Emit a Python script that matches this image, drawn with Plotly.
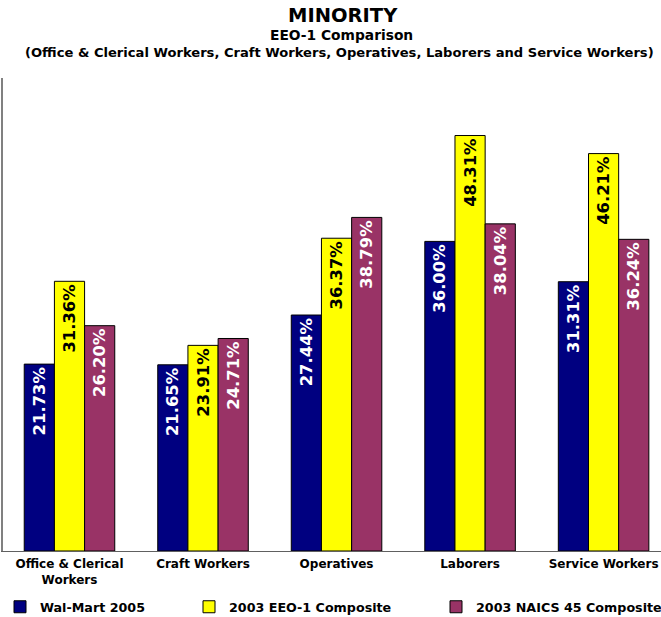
import plotly.graph_objects as go

categories = ["Office & Clerical<br>Workers", "Craft Workers", "Operatives", "Laborers", "Service Workers"]
walmart_2005 = [21.73, 21.65, 27.44, 36.00, 31.31]
eeo1_2003 = [31.36, 23.91, 36.37, 48.31, 46.21]
naics45_2003 = [26.20, 24.71, 38.79, 38.04, 36.24]

series = [
    ("Wal-Mart 2005", walmart_2005, "#000080", "white", "legend", 36),
    ("2003 EEO-1 Composite", eeo1_2003, "#FFFF00", "black", "legend2", 229),
    ("2003 NAICS 45 Composite", naics45_2003, "#993366", "white", "legend3", 476),
]

W, H = 661, 617
L, R, T, B = 3, 0, 78, 66
pw = W - L - R
ph = H - T - B


def px_x(x):
    return (x - L) / pw


def px_y(y):
    return (H - B - y) / ph


FONT = "DejaVu Sans"
fig = go.Figure()
for name, vals, color, tcolor, leg, tx in series:
    fig.add_trace(go.Bar(
        name=name,
        x=list(range(len(categories))),
        y=vals,
        marker=dict(color=color, line=dict(color="black", width=1)),
        text=[f"{v:.2f}%" for v in vals],
        textposition="inside",
        insidetextanchor="end",
        textangle=-90,
        insidetextfont=dict(family=FONT, size=16.4, color=tcolor, weight="bold"),
        constraintext="none",
        cliponaxis=False,
        legend=leg,
    ))

legend_common = dict(
    orientation="h",
    yanchor="middle",
    xanchor="left",
    xref="container",
    yref="container",
    y=(H - 607) / H,
    bgcolor="rgba(0,0,0,0)",
    font=dict(family=FONT, size=12.7, color="black", weight="bold"),
    itemwidth=30,
    tracegroupgap=0,
)

layouts = {}
for name, vals, color, tcolor, leg, tx in series:
    layouts[leg] = dict(legend_common, x=max(tx - 40, 0) / W)

fig.update_layout(
    template="none",
    width=W, height=H,
    margin=dict(l=L, r=R, t=T, b=B, pad=0, autoexpand=False),
    paper_bgcolor="white",
    plot_bgcolor="white",
    font=dict(family=FONT, color="black", weight="bold"),
    barmode="group",
    bargap=0.322,
    bargroupgap=0,
    showlegend=True,
    xaxis=dict(
        range=[-0.498, 4.43],
        tickmode="array",
        tickvals=list(range(len(categories))),
        ticktext=categories,
        tickfont=dict(family=FONT, size=12, color="black", weight="bold"),
        ticklabelstandoff=2,
        automargin=False,
        showline=True, linecolor="#606060", linewidth=1,
        showgrid=False, zeroline=False, ticks="",
    ),
    yaxis=dict(
        range=[0, 55],
        showticklabels=False,
        automargin=False,
        showline=True, linecolor="#808080", linewidth=2,
        showgrid=False, zeroline=False, ticks="",
    ),
    annotations=[
        dict(text="MINORITY", xref="paper", yref="paper", x=px_x(342.5), y=px_y(15),
             xanchor="center", yanchor="middle", showarrow=False,
             font=dict(family=FONT, size=19.5, color="black", weight="bold")),
        dict(text="EEO-1 Comparison", xref="paper", yref="paper", x=px_x(341), y=px_y(35),
             xanchor="center", yanchor="middle", showarrow=False,
             font=dict(family=FONT, size=13.8, color="black", weight="bold")),
        dict(text="(Office & Clerical Workers, Craft Workers, Operatives, Laborers and Service Workers)",
             xref="paper", yref="paper", x=px_x(23), y=px_y(52),
             xanchor="left", yanchor="middle", showarrow=False,
             font=dict(family=FONT, size=13.1, color="black", weight="bold")),
    ],
    **layouts,
)

fig.write_html("out.html", config={"displayModeBar": False},
               post_script="document.body.style.margin='0';document.body.style.padding='0';")
